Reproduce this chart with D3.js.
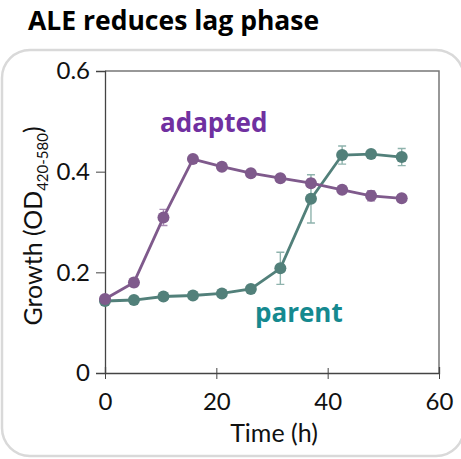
<!DOCTYPE html>
<meta charset="utf-8">
<style>
    body { margin: 0; background: #fff; }
    .tick text { font-family: Lato, sans-serif; font-size: 24px; fill: #111; }
</style>
<body>
<svg id="chart" width="461" height="459"></svg>
</body>
<script src="https://d3js.org/d3.v7.min.js"></script>
<script>

    // sampling times (h)
    var times = [0, 5.2, 10.5, 15.8, 21, 26.2, 31.5, 37, 42.6, 47.8, 53.3];

    var adapted = [0.147, 0.180, 0.309, 0.425, 0.410, 0.397, 0.387, 0.377, 0.364, 0.352, 0.347];
    var adaptedErr = [0.003, 0.008, 0.016, 0.005, 0.007, 0.004, 0.004, 0.008, 0.006, 0.010, 0.006];

    var parent = [0.143, 0.145, 0.152, 0.154, 0.158, 0.167, 0.208, 0.346, 0.433, 0.435, 0.429];
    var parentErr = [0.003, 0.004, 0.004, 0.004, 0.004, 0.005, 0.032, 0.048, 0.018, 0.005, 0.017];

    var xTicks = [0, 20, 40, 60];
    var yTicks = [0, 0.2, 0.4, 0.6];

    var svg = d3.select("#chart");

    var x = d3.scaleLinear().domain([0, 60]).range([105, 439]);
    var y = d3.scaleLinear().domain([0, 0.6]).range([373, 71]);

    // outer rounded frame
    svg.append("rect")
        .attr("x", 2).attr("y", 50)
        .attr("width", 462).attr("height", 406)
        .attr("rx", 28).attr("ry", 28)
        .attr("fill", "none")
        .attr("stroke", "#d9d9d9")
        .attr("stroke-width", 2.5);

    svg.append("text")
        .attr("x", 28).attr("y", 30)
        .attr("font-family", "'Open Sans', sans-serif")
        .attr("font-weight", "bold")
        .attr("font-size", 26.5)
        .attr("fill", "#000")
        .text("ALE reduces lag phase");

    // top and right border of plot box
    svg.append("path")
        .attr("d", "M" + x(0) + "," + y(0.6) + "H" + x(60) + "V" + y(0))
        .attr("fill", "none")
        .attr("stroke", "#777")
        .attr("stroke-width", 1.5);

    var xAxis = svg.append("g")
        .attr("transform", "translate(0," + y(0) + ")")
        .call(d3.axisBottom(x).tickValues(xTicks).tickFormat(d3.format("d")).tickSize(-6).tickPadding(20));
    xAxis.selectAll(".tick line").attr("y2", 6).attr("y1", -5);

    var yAxis = svg.append("g")
        .attr("transform", "translate(" + x(0) + ",0)")
        .call(d3.axisLeft(y).tickValues(yTicks).tickFormat(function (d) { return d === 0 ? "0" : d3.format(".1f")(d); }).tickSize(9).tickPadding(6));

    svg.selectAll(".domain").attr("stroke", "#444").attr("stroke-width", 1.3);
    svg.selectAll(".tick line").attr("stroke", "#444");

    svg.append("text")
        .attr("x", x(30) + 2).attr("y", 442)
        .attr("text-anchor", "middle")
        .attr("font-family", "Lato, sans-serif")
        .attr("font-size", 25)
        .attr("fill", "#111")
        .text("Time (h)");

    var yLabel = svg.append("text")
        .attr("transform", "translate(42,226) rotate(-90)")
        .attr("text-anchor", "middle")
        .attr("font-family", "Lato, sans-serif")
        .attr("font-size", 25)
        .attr("fill", "#111");
    yLabel.append("tspan").text("Growth (OD");
    yLabel.append("tspan").attr("font-size", 15).attr("dy", 6).text("420-580");
    yLabel.append("tspan").attr("dy", -6).text(")");

    function drawSeries(values, errs, color, errColor) {
        var pts = times.map(function (t, i) { return { t: t, v: values[i], e: errs[i] }; });
        var g = svg.append("g");
        g.selectAll("path.err")
            .data(pts)
            .enter().append("path")
            .attr("class", "err")
            .attr("d", function (d) {
                var cx = x(d.t), y1 = y(d.v + d.e), y2 = y(d.v - d.e);
                return "M" + (cx - 4) + "," + y1 + "H" + (cx + 4) + "M" + cx + "," + y1 + "V" + y2 + "M" + (cx - 4) + "," + y2 + "H" + (cx + 4);
            })
            .attr("fill", "none")
            .attr("stroke", errColor)
            .attr("stroke-width", 1.4);
        g.append("path")
            .datum(pts)
            .attr("d", d3.line().x(function (d) { return x(d.t); }).y(function (d) { return y(d.v); }))
            .attr("fill", "none")
            .attr("stroke", color)
            .attr("stroke-width", 2.8);
        g.selectAll("circle")
            .data(pts)
            .enter().append("circle")
            .attr("cx", function (d) { return x(d.t); })
            .attr("cy", function (d) { return y(d.v); })
            .attr("r", 6)
            .attr("fill", color);
    }

    drawSeries(parent, parentErr, "#52807a", "#8fb3ad");
    drawSeries(adapted, adaptedErr, "#7f5a8c", "#a88bb3");

    svg.append("text")
        .attr("x", 160).attr("y", 132)
        .attr("font-family", "'Open Sans', sans-serif")
        .attr("font-weight", "bold")
        .attr("font-size", 26)
        .attr("fill", "#7030a0")
        .text("adapted");

    svg.append("text")
        .attr("x", 255).attr("y", 322)
        .attr("font-family", "'Open Sans', sans-serif")
        .attr("font-weight", "bold")
        .attr("font-size", 26)
        .attr("fill", "#15898f")
        .text("parent");

</script>
